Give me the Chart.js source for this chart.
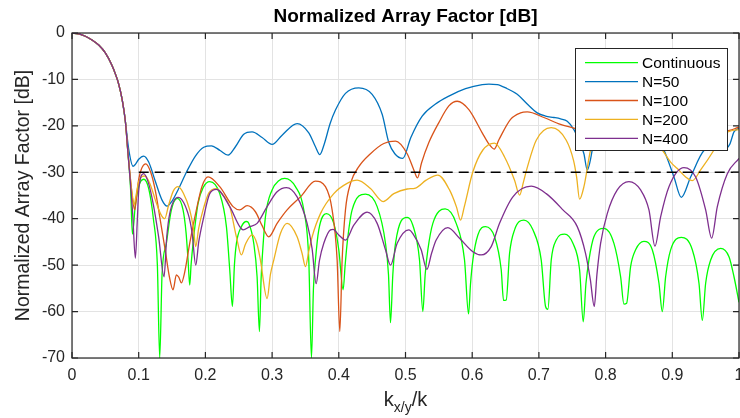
<!DOCTYPE html>
<html><head><meta charset="utf-8">
<script src="https://cdn.jsdelivr.net/npm/chart.js@4"></script>
<style>html,body{margin:0;padding:0;background:#fff;}canvas{display:block}</style>
</head><body>
<canvas id="c" width="740" height="418" style="width:740px;height:418px"></canvas>
<script>
const xTicks = [0,0.1,0.2,0.3,0.4,0.5,0.6,0.7,0.8,0.9,1];
const yTicks = [0,-10,-20,-30,-40,-50,-60,-70];
const seriesNames = ['Continuous','N=50','N=100','N=200','N=400'];
const seriesColors = ['#00FF00','#0072BD','#D95319','#EDB120','#7E2F8E'];

const contX = [0,0.01,0.02,0.03,0.04,0.05,0.06,0.065,0.07,0.075,0.08,0.084,0.088,0.0905,0.095,0.1,0.1075,0.115,0.122,0.128,0.1315,0.135,0.1415,0.149,0.158,0.1665,0.171,0.174,0.1765,0.1785,0.1815,0.189,0.197,0.2065,0.2215,0.2315,0.2365,0.2405,0.2435,0.2465,0.254,0.2615,0.265,0.2725,0.2775,0.281,0.2835,0.285,0.29,0.3,0.31,0.319,0.335,0.3475,0.355,0.359,0.362,0.365,0.37,0.3815,0.3925,0.4,0.4065,0.4095,0.4125,0.42,0.44,0.4575,0.47,0.4745,0.4775,0.481,0.485,0.5025,0.511,0.521,0.526,0.5295,0.5335,0.541,0.5595,0.576,0.5885,0.5945,0.5975,0.601,0.6085,0.62,0.6335,0.6435,0.647,0.651,0.656,0.6635,0.6775,0.691,0.7035,0.71,0.7135,0.7185,0.726,0.7385,0.751,0.761,0.7665,0.7705,0.775,0.7825,0.7975,0.8125,0.8225,0.8275,0.8315,0.8375,0.845,0.8575,0.87,0.88,0.885,0.89,0.8975,0.9135,0.93,0.94,0.945,0.95,0.9575,0.9725,0.985,0.9925,1.0];
const contY = [0,-0.2,-0.7,-1.5,-2.6,-4.3,-7.0,-8.8,-11.0,-14.2,-19.0,-26.0,-34.0,-43.3,-37.0,-33.0,-31.5,-33.5,-40,-50,-70,-52,-45.3,-38.1,-35.6,-38.1,-43,-48.9,-54.3,-50,-45.3,-36.7,-33.2,-32.0,-34.6,-41.7,-51,-58.9,-50,-45.3,-41.7,-40.6,-41,-45.3,-52.5,-64.3,-53,-48.9,-39.6,-33.8,-31.8,-31.3,-33.1,-38.1,-48.9,-70,-55,-48.9,-42.4,-38.9,-41.0,-46.7,-55.3,-50,-45.3,-38.1,-34.7,-37.4,-45.3,-52,-62.4,-52,-45.3,-39.7,-41.4,-48.9,-60,-52,-46.7,-41.0,-37.9,-41.0,-48.9,-60.5,-54,-48.9,-43.5,-41.7,-43.9,-51,-57.6,-57.5,-47.5,-42.4,-40.3,-42.4,-48.9,-58.9,-59.5,-48.9,-44.6,-43.3,-45.3,-51,-62.2,-54,-48.9,-43.9,-42.1,-45.3,-52.5,-58.4,-58.2,-50.3,-46.7,-44.9,-46.7,-53.9,-60,-52.5,-46.7,-44,-46.7,-53.9,-61.9,-53.9,-48.9,-46.4,-48.2,-52.5,-58];

const n50X = [0,0.01,0.02,0.03,0.04,0.05,0.06,0.065,0.07,0.075,0.08,0.085,0.0915,0.095,0.1,0.1075,0.115,0.125,0.135,0.1425,0.15,0.16,0.1715,0.185,0.1975,0.209,0.222,0.234,0.245,0.2575,0.27,0.285,0.3,0.315,0.3375,0.355,0.365,0.3715,0.378,0.387,0.395,0.41,0.43,0.45,0.465,0.475,0.484,0.496,0.508,0.525,0.545,0.565,0.59,0.615,0.625,0.6375,0.6525,0.6675,0.6825,0.6975,0.71,0.7225,0.7325,0.7425,0.7525,0.7625,0.7675,0.7725,0.777,0.78,0.79,0.81,0.83,0.85,0.87,0.8875,0.9025,0.9135,0.9275,0.9475,0.962,0.978,0.986,0.9925,1.0];
const n50Y = [0,-0.2,-0.7,-1.5,-2.6,-4.3,-7.0,-8.8,-11.0,-14.2,-19.0,-25.0,-28.7,-28.3,-27.2,-26.5,-27.8,-32,-36,-37.3,-36.2,-33.5,-30,-26.5,-24.6,-24.3,-25.3,-26.3,-24.5,-21.8,-21.3,-22.5,-24.0,-22,-19.5,-21.5,-24.5,-26.2,-24,-19.5,-16.6,-13,-11.8,-13.2,-17.5,-23.6,-26,-27.0,-22.5,-17.9,-15.3,-13.6,-12,-11.1,-11.0,-11.1,-12,-13.2,-15.3,-17.2,-17.9,-18.2,-18.5,-19.0,-20.8,-24,-26.0,-29.5,-27.5,-25.2,-20,-16.5,-15.5,-16.5,-20,-25.2,-31,-35.4,-31,-25.3,-24.6,-25.0,-24.0,-21.3,-20.5];

const n100X = [0,0.01,0.02,0.03,0.04,0.05,0.06,0.065,0.07,0.075,0.08,0.084,0.088,0.091,0.094,0.097,0.1,0.1105,0.118,0.125,0.132,0.14,0.146,0.1515,0.1565,0.16,0.164,0.169,0.1765,0.1865,0.195,0.204,0.2215,0.2415,0.2515,0.2625,0.275,0.285,0.295,0.3075,0.3225,0.3425,0.365,0.38,0.39,0.3975,0.4015,0.405,0.41,0.4175,0.43,0.4475,0.4675,0.485,0.5025,0.5125,0.518,0.524,0.535,0.55,0.565,0.5775,0.595,0.615,0.6255,0.633,0.64,0.6575,0.6725,0.6825,0.7075,0.7325,0.75,0.77,0.8,0.85,0.9,0.95,0.98,1.0];
const n100Y = [0,-0.2,-0.7,-1.5,-2.6,-4.3,-7.0,-8.8,-11.0,-14.2,-19.0,-26.0,-32,-36,-38.1,-35,-31.5,-28.2,-30,-34,-40,-47,-52.5,-55.3,-52.1,-52.6,-53.8,-51.5,-45.3,-38.1,-33,-31.0,-33.1,-37.4,-38.1,-37.2,-38.5,-41.5,-43.9,-41.0,-38.1,-35.3,-31.9,-33.1,-38.1,-48.9,-64.3,-48.9,-38.1,-32.4,-28.8,-26,-23.8,-23.3,-26,-29.5,-31.2,-28,-23.6,-19.3,-15.7,-14.7,-16.5,-21.5,-24,-25,-23,-18.6,-17.2,-17.0,-18.2,-19.7,-20.4,-21,-19,-18,-19.5,-21,-21.1,-20.3];

const n200X = [0,0.01,0.02,0.03,0.04,0.05,0.06,0.065,0.07,0.075,0.08,0.084,0.088,0.091,0.093,0.096,0.1,0.109,0.117,0.125,0.133,0.139,0.145,0.152,0.159,0.167,0.1765,0.182,0.1855,0.19,0.1965,0.205,0.2165,0.227,0.2365,0.2465,0.254,0.26,0.27,0.2775,0.2825,0.2925,0.2975,0.3025,0.3125,0.3225,0.3375,0.345,0.35,0.355,0.36,0.3725,0.3925,0.4125,0.4275,0.4475,0.4665,0.4825,0.5025,0.515,0.531,0.5485,0.566,0.5765,0.5825,0.588,0.601,0.616,0.6335,0.6485,0.6635,0.671,0.677,0.6825,0.696,0.7185,0.741,0.752,0.7565,0.761,0.7675,0.7775,0.79,0.83,0.86,0.885,0.8975,0.9075,0.92,0.93,0.9425,0.9625,0.975,0.99,1.0];
const n200Y = [0,-0.2,-0.7,-1.5,-2.6,-4.3,-7.0,-8.8,-11.0,-14.2,-19.0,-26.0,-32,-35.5,-37,-35,-32,-30.8,-32.5,-36,-39,-40,-37,-34,-33.1,-34.5,-38.1,-42,-46.0,-42,-38.1,-34.5,-33.5,-35,-37.4,-43.9,-47.8,-45.5,-43.5,-45.5,-48.9,-57.2,-52,-48.9,-43.2,-41.0,-43.9,-47.5,-50.3,-47,-43.9,-38.9,-34.6,-32.4,-31.7,-33.5,-36.3,-34.6,-33.6,-33.4,-31.7,-30.6,-33.8,-37.5,-40.3,-37.5,-29.9,-25.2,-23.7,-26.7,-31.7,-34.9,-32,-29,-23.1,-20.4,-23.1,-27.5,-31,-35.8,-33.1,-25.2,-21,-19,-21,-25.2,-27.8,-29.2,-31,-31.8,-29.5,-25.2,-22,-21,-20.8];

const n400X = [0,0.01,0.02,0.03,0.04,0.05,0.06,0.065,0.07,0.075,0.08,0.084,0.088,0.091,0.095,0.098,0.1,0.1075,0.115,0.122,0.13,0.138,0.142,0.1465,0.159,0.174,0.18,0.1855,0.19,0.1965,0.2065,0.2165,0.2365,0.2515,0.2565,0.2665,0.2775,0.2925,0.3075,0.3215,0.3375,0.3525,0.36,0.366,0.371,0.3775,0.3875,0.3915,0.4,0.41,0.4225,0.4425,0.4575,0.47,0.4775,0.4875,0.505,0.511,0.5235,0.532,0.539,0.546,0.5635,0.581,0.601,0.6135,0.6285,0.641,0.661,0.6885,0.711,0.736,0.7575,0.77,0.777,0.783,0.787,0.7925,0.8025,0.8175,0.835,0.8525,0.865,0.874,0.8825,0.895,0.9175,0.935,0.95,0.959,0.9675,0.9825,1.0];
const n400Y = [0,-0.2,-0.7,-1.5,-2.6,-4.3,-7.0,-8.8,-11.0,-14.2,-19.0,-26.0,-33,-39,-48.5,-40,-34,-30.3,-32.5,-37,-44,-52.5,-44,-38.9,-35.4,-38.9,-43,-50,-45,-40.3,-34.6,-33.7,-37.4,-41.7,-42.4,-41.7,-41.0,-37.4,-34.2,-33.3,-35.3,-41.0,-46.5,-54.0,-49,-45.3,-42.4,-42.3,-43.5,-44.6,-41.4,-38.6,-41.0,-46.7,-50,-45.3,-42.4,-43.2,-46.7,-50.9,-47.5,-44.6,-41.9,-44.2,-47.1,-47.8,-46.0,-41,-35.3,-33.0,-34.6,-38.1,-41.7,-47.5,-53,-58.9,-52,-45.3,-38.9,-33.8,-32.0,-33.8,-38.1,-45.9,-39.6,-33.1,-29.0,-31.0,-38.1,-44.2,-37.4,-30.3,-27];

const threshX = [0.1, 1];
const threshY = [-30, -30];

const FONT = "'Liberation Sans', Arial, Helvetica, sans-serif";
const pts = (xs, ys) => xs.map((x, i) => ({x: x, y: ys[i]}));
const allX = [contX, n50X, n100X, n200X, n400X];
const allY = [contY, n50Y, n100Y, n200Y, n400Y];

const datasets = seriesNames.map((name, i) => ({
  label: name,
  data: pts(allX[i], allY[i]),
  borderColor: seriesColors[i],
  borderWidth: 1.3,
  pointRadius: 0,
  fill: false,
  cubicInterpolationMode: 'monotone',
  order: 10 - i
}));
datasets.push({
  label: 'threshold',
  data: pts(threshX, threshY),
  borderColor: '#000000',
  borderWidth: 1.5,
  borderDash: [10, 6],
  pointRadius: 0,
  fill: false,
  order: 0
});

const decor = {
  id: 'decor',
  afterDraw(chart) {
    const ctx = chart.ctx;
    const a = chart.chartArea;
    const xs = chart.scales.x, ys = chart.scales.y;
    ctx.save();
    // box
    ctx.strokeStyle = '#262626';
    ctx.lineWidth = 1.2;
    ctx.strokeRect(a.left, a.top, a.right - a.left, a.bottom - a.top);
    // inside ticks
    ctx.beginPath();
    xTicks.forEach(v => {
      const p = xs.getPixelForValue(v);
      ctx.moveTo(p, a.bottom); ctx.lineTo(p, a.bottom - 6);
      ctx.moveTo(p, a.top); ctx.lineTo(p, a.top + 6);
    });
    yTicks.forEach(v => {
      const p = ys.getPixelForValue(v);
      ctx.moveTo(a.left, p); ctx.lineTo(a.left + 6, p);
      ctx.moveTo(a.right, p); ctx.lineTo(a.right - 6, p);
    });
    ctx.stroke();
    // title
    const cx = (a.left + a.right) / 2;
    ctx.fillStyle = '#000';
    ctx.font = 'bold 19px ' + FONT;
    ctx.textAlign = 'center';
    ctx.textBaseline = 'middle';
    ctx.fillText('Normalized Array Factor [dB]', cx, 17);
    // y label
    ctx.save();
    ctx.translate(24, (a.top + a.bottom) / 2);
    ctx.rotate(-Math.PI / 2);
    ctx.fillStyle = '#262626';
    ctx.font = '19.5px ' + FONT;
    ctx.fillText('Normalized Array Factor [dB]', 0, 0);
    ctx.restore();
    // x label with subscript
    const bigF = '20px ' + FONT, subF = '14px ' + FONT;
    ctx.font = bigF; const w1 = ctx.measureText('k').width; const w3 = ctx.measureText('/k').width;
    ctx.font = subF; const w2 = ctx.measureText('x/y').width;
    let sx = cx - (w1 + w2 + w3) / 2;
    const base = 406;
    ctx.fillStyle = '#262626';
    ctx.textAlign = 'left';
    ctx.textBaseline = 'alphabetic';
    ctx.font = bigF; ctx.fillText('k', sx, base); sx += w1;
    ctx.font = subF; ctx.fillText('x/y', sx, base + 6); sx += w2;
    ctx.font = bigF; ctx.fillText('/k', sx, base);
    // legend
    const lx = 575, ly = 48, lw = 152, lh = 102;
    ctx.fillStyle = '#fff';
    ctx.fillRect(lx, ly, lw, lh);
    ctx.strokeStyle = '#262626';
    ctx.lineWidth = 1;
    ctx.strokeRect(lx + 0.5, ly + 0.5, lw, lh);
    ctx.font = '15.5px ' + FONT;
    ctx.textBaseline = 'middle';
    seriesNames.forEach((n, i) => {
      const yy = 62.7 + i * 18.9;
      ctx.strokeStyle = seriesColors[i];
      ctx.lineWidth = 1.3;
      ctx.beginPath(); ctx.moveTo(585, yy); ctx.lineTo(638, yy); ctx.stroke();
      ctx.fillStyle = '#000';
      ctx.fillText(n, 642, yy + 1);
    });
    ctx.restore();
  }
};

new Chart(document.getElementById('c'), {
  type: 'line',
  data: { datasets: datasets },
  options: {
    responsive: false,
    animation: false,
    events: [],
    layout: { padding: { top: 33, right: 1, left: 0, bottom: 0 } },
    plugins: { legend: { display: false }, title: { display: false }, tooltip: { enabled: false } },
    scales: {
      x: {
        type: 'linear', min: 0, max: 1,
        afterBuildTicks: s => { s.ticks = xTicks.map(v => ({ value: v })); },
        ticks: { autoSkip: false, maxRotation: 0, minRotation: 0, padding: 8, color: '#262626',
                 font: { family: FONT, size: 16 }, callback: v => String(Math.round(v * 10) / 10) },
        grid: { color: '#e3e3e3', lineWidth: 1, drawTicks: false },
        border: { display: false },
        afterFit: s => { s.height = 60; s.paddingLeft = 0; s.paddingRight = 0; }
      },
      y: {
        type: 'linear', min: -70, max: 0,
        afterBuildTicks: s => { s.ticks = yTicks.map(v => ({ value: v })); },
        ticks: { autoSkip: false, padding: 7, color: '#262626',
                 font: { family: FONT, size: 16 }, callback: v => String(v) },
        grid: { color: '#e3e3e3', lineWidth: 1, drawTicks: false },
        border: { display: false },
        afterFit: s => { s.width = 72; s.paddingTop = 0; s.paddingBottom = 0; }
      }
    }
  },
  plugins: [decor]
});
</script>
</body></html>
